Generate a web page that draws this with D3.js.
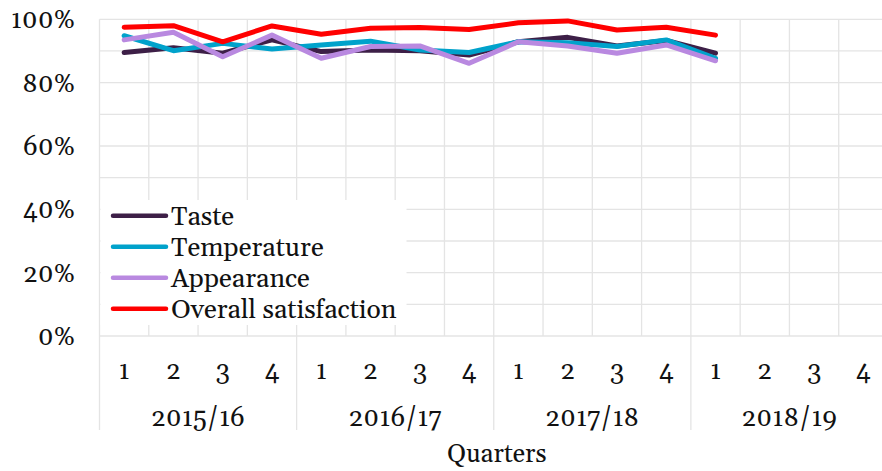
<!DOCTYPE html>
<html><head><meta charset="utf-8">
<script src="https://cdn.jsdelivr.net/npm/d3@7"></script>
<style>
html,body{margin:0;padding:0;background:#fff;}
svg{display:block;}
</style></head>
<body><svg id="c" width="882" height="471"></svg>
<script>
const years = ["2015/16","2016/17","2017/18","2018/19"];
const quarters = ["1","2","3","4"];
const seriesNames = ["Taste","Temperature","Appearance","Overall satisfaction"];
const seriesColors = ["#3d1f47","#00a2cb","#b989e0","#ff0000"];
const taste       = [89.5, 91.0, 89.3, 93.5, 89.8, 90.3, 90.1, 88.7, 92.9, 94.3, 91.6, 93.3, 89.3];
const temperature = [94.8, 90.1, 92.4, 90.6, 91.9, 93.1, 90.3, 89.5, 92.9, 92.6, 91.4, 93.5, 87.7];
const appearance  = [93.5, 95.9, 88.2, 95.0, 87.7, 91.4, 91.6, 86.1, 92.9, 91.6, 89.3, 91.9, 86.9];
const overall     = [97.5, 98.0, 92.9, 97.9, 95.3, 97.2, 97.4, 96.8, 98.9, 99.5, 96.6, 97.5, 95.0];
const yTicks = [0,20,40,60,80,100];
const yGrid = [0,10,20,30,40,50,60,70,80,90,100];
const xTitle = "Quarters";

const allSeries = [taste, temperature, appearance, overall];
const cats = [];
years.forEach(y => quarters.forEach(q => cats.push(y + "|" + q)));

const svg = d3.select("#c").attr("font-family", "Gelasio, Georgia, 'Liberation Serif', serif")
  .style("font-variant-numeric", "oldstyle-nums").style("font-feature-settings", "'onum' 1");
const L = 99.5, R = 888, T = 19.3, B = 336;
const x = d3.scaleBand().domain(cats).range([L, R]);
const y = d3.scaleLinear().domain([0, 100]).range([B, T]);
const grid = "#e4e4e4";
const FS = 26;

svg.append("g").selectAll("line").data(yGrid).join("line")
  .attr("x1", L).attr("x2", R).attr("y1", d => y(d)).attr("y2", d => y(d))
  .attr("stroke", grid).attr("stroke-width", 1.3);
const vx = cats.map(c => x(c)).concat([R]);
svg.append("g").selectAll("line").data(vx).join("line")
  .attr("x1", d => d).attr("x2", d => d).attr("y1", T).attr("y2", B)
  .attr("stroke", grid).attr("stroke-width", 1.3);
const yearX = years.map(yy => x(yy + "|1")).concat([R]);
svg.append("g").selectAll("line").data(yearX).join("line")
  .attr("x1", d => d).attr("x2", d => d).attr("y1", B).attr("y2", 430)
  .attr("stroke", grid).attr("stroke-width", 1.3);

svg.append("g").selectAll("text").data(yTicks).join("text")
  .attr("x", 75).attr("y", d => y(d)).attr("dy", "0.35em")
  .attr("text-anchor", "end").attr("font-size", FS).attr("fill", "#111")
  .text(d => d + "%");

const line = d3.line().x((d, i) => x(cats[i]) + x.bandwidth() / 2).y(d => y(d));
svg.append("g").selectAll("path").data(allSeries).join("path")
  .attr("d", d => line(d)).attr("fill", "none")
  .attr("stroke", (d, i) => seriesColors[i]).attr("stroke-width", 5)
  .attr("stroke-linejoin", "round").attr("stroke-linecap", "round");

svg.append("g").selectAll("text").data(cats).join("text")
  .attr("x", d => x(d) + x.bandwidth() / 2).attr("y", 370).attr("dy", "0.35em")
  .attr("text-anchor", "middle").attr("font-size", FS).attr("fill", "#111")
  .text(d => d.split("|")[1]);
svg.append("g").selectAll("text").data(years).join("text")
  .attr("x", d => x(d + "|1") + x.bandwidth() * 2).attr("y", 417).attr("dy", "0.35em")
  .attr("text-anchor", "middle").attr("font-size", FS).attr("fill", "#111")
  .text(d => d);
svg.append("text").attr("x", (L + R) / 2 + 3).attr("y", 453).attr("dy", "0.35em")
  .attr("text-anchor", "middle").attr("font-size", 25.5).attr("fill", "#111").text(xTitle);

const lg = svg.append("g");
lg.append("rect").attr("x", 100.5).attr("y", 200).attr("width", 306).attr("height", 125).attr("fill", "#fff");
seriesNames.forEach((n, i) => {
  const ly = 215.7 + i * 31;
  lg.append("line").attr("x1", 113).attr("x2", 166).attr("y1", ly).attr("y2", ly)
    .attr("stroke", seriesColors[i]).attr("stroke-width", 4.5).attr("stroke-linecap", "round");
  lg.append("text").attr("x", 171).attr("y", ly).attr("dy", "0.35em")
    .attr("font-size", 26.5).attr("fill", "#111").text(n);
});
</script></body></html>
